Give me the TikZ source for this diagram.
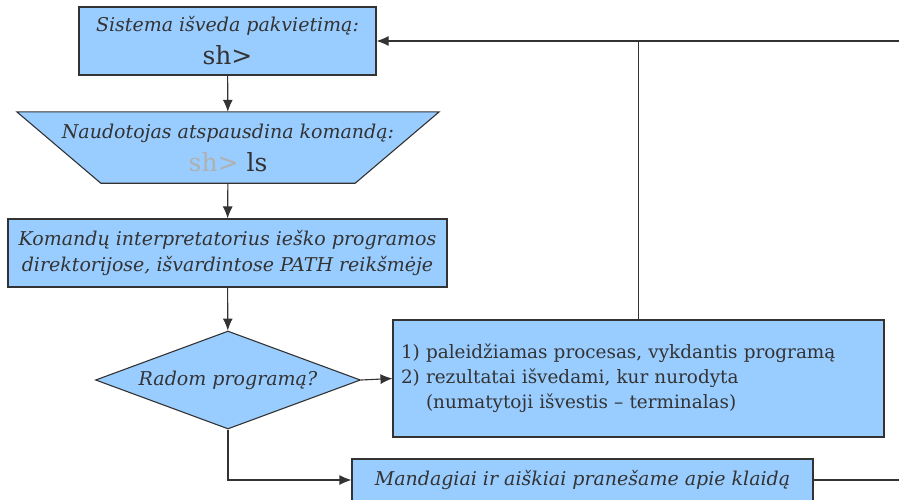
\documentclass[tikz,border=0pt]{standalone}
\usepackage{fontspec}
\setmainfont{DejaVu Serif}
\usetikzlibrary{shapes.geometric,arrows.meta,backgrounds}

\definecolor{boxblue}{HTML}{99CCFF}
\definecolor{ink}{HTML}{333333}
\definecolor{faded}{HTML}{B0B0B0}

\tikzset{
  flow/.style={draw=ink, line width=1.1pt, fill=boxblue, text=ink, inner sep=0pt, align=center},
  conn/.style={draw=ink, line width=1.1pt},
  note/.style={font=\fontsize{19}{26}\selectfont\itshape},
  twoline/.style={font=\fontsize{19}{33}\selectfont},
}

\begin{document}
\begin{tikzpicture}[x=1pt,y=-1pt,>={Latex[length=12pt,width=10pt]}]
\useasboundingbox (0,0) rectangle (899,499);
\clip (0,0) rectangle (899,499);

% boxes of the loop
\node[flow, twoline, minimum width=297pt, minimum height=68pt] (prompt) at (227.5,41)
  {{\itshape Sistema išveda pakvietimą:}\\{\fontsize{25}{25}\selectfont sh>}};
\node[text=ink, twoline, align=center, inner sep=0pt,
  minimum width=422pt, minimum height=71pt] (typed) at (228,147.5)
  {{\itshape Naudotojas atspausdina komandą:}\\{\fontsize{25}{25}\selectfont\textcolor{faded}{sh>} ls}};
\begin{scope}[on background layer]
  \path[flow] (typed.north west) -- (typed.north east)
    -- ([xshift=-84pt]typed.south east) -- ([xshift=84pt]typed.south west) -- cycle;
\end{scope}
\node[flow, minimum width=439pt, minimum height=68pt, note] (search) at (227.5,253)
  {Komandų interpretatorius ieško programos\\direktorijose, išvardintose PATH reikšmėje};
\node[flow, diamond, aspect=2.7, minimum width=265pt, minimum height=98pt, note] (found) at (228,380)
  {Radom programą?};
\node[flow, minimum width=491pt, minimum height=117pt, inner xsep=8pt,
  text width=475pt, align=left,
  font=\fontsize{18.4}{25}\selectfont] (run) at (638.5,378.5)
  {1) paleidžiamas procesas, vykdantis programą\\2) rezultatai išvedami, kur nurodyta\\\hphantom{2) }(numatytoji išvestis -- terminalas)};
\node[flow, minimum width=461pt, minimum height=42pt, note] (error) at (582.5,480)
  {Mandagiai ir aiškiai pranešame apie klaidą};

% free ends at the right edge
\coordinate (back) at (899,41);
\coordinate (out) at (899,480);

% connectors
\draw[conn,->] (prompt) -- (typed);
\draw[conn,->] (typed) -- (search);
\draw[conn,->] (search) -- (found);
\draw[conn,->] (found.east) -- (run.west);
\draw[conn,->] (found.south) |- (error.west);
\draw[conn] (run.north) -- (run.north |- back);
\draw[conn,->] (back) -- (prompt.east);
\draw[conn] (error.east) -- (out);

\end{tikzpicture}
\end{document}
